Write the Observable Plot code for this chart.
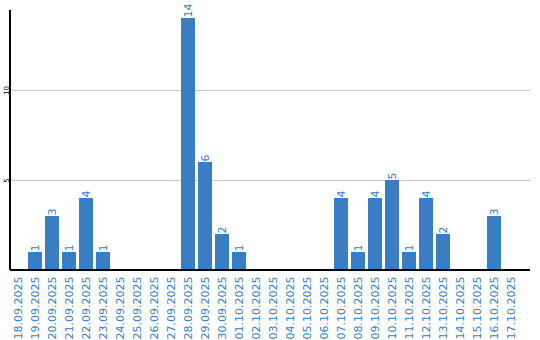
<!DOCTYPE html>
<html>
<head>
<meta charset="utf-8">
<script src="https://cdn.jsdelivr.net/npm/d3@7"></script>
<script src="https://cdn.jsdelivr.net/npm/@observablehq/plot@0.6"></script>
<style>
  body { margin: 0; background: #fff; }
  #chart svg { display: block; }
</style>
</head>
<body>
<div id="chart"></div>
<script>
const dates = ["18.09.2025","19.09.2025","20.09.2025","21.09.2025","22.09.2025","23.09.2025","24.09.2025","25.09.2025","26.09.2025","27.09.2025","28.09.2025","29.09.2025","30.09.2025","01.10.2025","02.10.2025","03.10.2025","04.10.2025","05.10.2025","06.10.2025","07.10.2025","08.10.2025","09.10.2025","10.10.2025","11.10.2025","12.10.2025","13.10.2025","14.10.2025","15.10.2025","16.10.2025","17.10.2025"];
const counts = [0,1,3,1,4,1,0,0,0,0,14,6,2,1,0,0,0,0,0,4,1,4,5,1,4,2,0,0,3,0];
const yTicks = [5, 10];

const data = dates.map((d, i) => ({date: d, value: counts[i]}));
const blue = "#3a7dc2";

const axisLines = (index, scales, values, dims) => {
  const g = d3.create("svg:g");
  const l = dims.marginLeft, r = dims.width - dims.marginRight;
  const t = dims.marginTop, b = dims.height - dims.marginBottom;
  g.append("line").attr("x1", l).attr("x2", l).attr("y1", t).attr("y2", b)
    .attr("stroke", "#000").attr("stroke-width", 2);
  g.append("line").attr("x1", l).attr("x2", r).attr("y1", b).attr("y2", b)
    .attr("stroke", "#000").attr("stroke-width", 2);
  return g.node();
};

const chart = Plot.plot({
  width: 540,
  height: 340,
  marginLeft: 10,
  marginRight: 10,
  marginTop: 10,
  marginBottom: 70,
  style: {fontFamily: "DejaVu Sans", background: "#fff"},
  x: {domain: dates, range: [11, 524], paddingInner: 0.176, paddingOuter: 0.176, align: 0},
  y: {domain: [0, 14.44]},
  marks: [
    Plot.ruleY(yTicks, {stroke: "#c8c8c8", strokeWidth: 1}),
    Plot.barY(data, {x: "date", y: "value", fill: blue}),
    Plot.text(data.filter(d => d.value > 0), {
      x: "date", y: "value", text: d => String(d.value),
      rotate: -90, textAnchor: "start", dy: -1, fill: blue, fontSize: 11
    }),
    Plot.axisX({tickRotate: -90, tickSize: 0, tickPadding: 6, fill: blue, fontSize: 11, label: null}),
    Plot.axisY({ticks: yTicks, tickSize: 0, tickRotate: -90, tickPadding: 2, fontSize: 7, fill: "#000", label: null}),
    axisLines
  ]
});
document.getElementById("chart").appendChild(chart);
</script>
</body>
</html>
